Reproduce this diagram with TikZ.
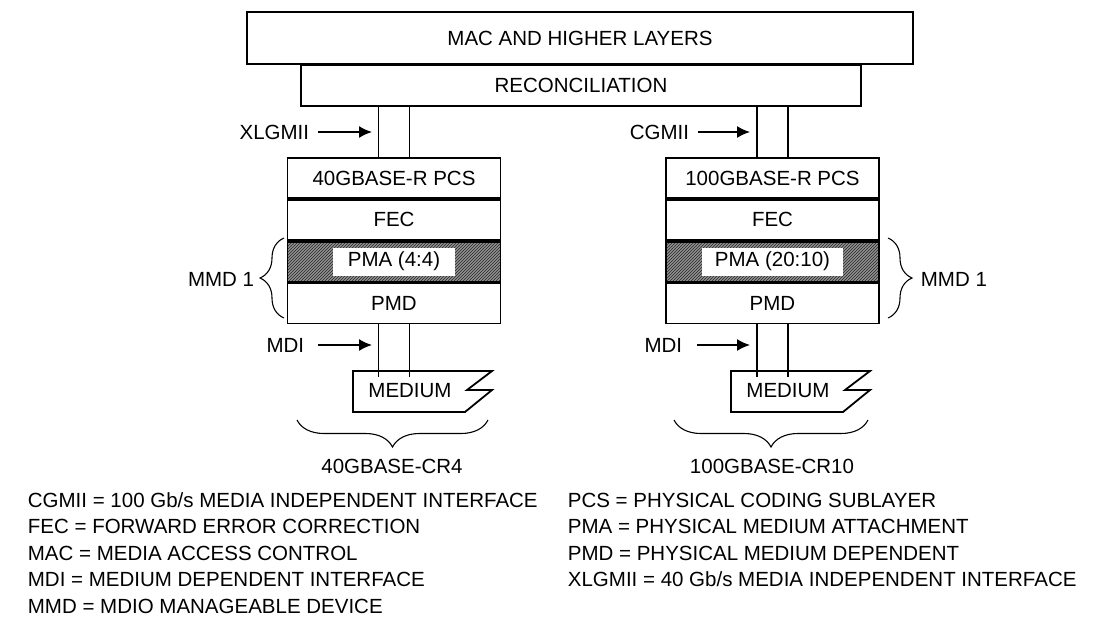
\documentclass[tikz,border=0pt]{standalone}
\usepackage{fontspec}
\setmainfont{Liberation Sans}
\usepackage{tikz}
\usetikzlibrary{arrows.meta,positioning,calc,patterns,decorations.pathreplacing}
\definecolor{HatchGray}{RGB}{145,145,145}

\begin{document}
\begin{tikzpicture}[x=1pt, y=-1pt, line width=1.8pt,
    every node/.style={font=\fontsize{20.5}{24}\selectfont},
    layer/.style={draw, line width=1.8pt, minimum width=213pt, minimum height=40pt, inner sep=0pt},
    tag/.style={inner sep=0pt},
    ifarrow/.style={-{Latex[length=13pt,width=12pt]}, line width=1.5pt},
    brc/.style={decorate, decoration={brace, amplitude=#1}, line width=1.1pt}]
  \useasboundingbox (0,0) rectangle (1099,618);

  % top of the stack
  \node[draw, minimum width=666pt, minimum height=52pt, inner sep=0pt] (mac) at (580,38) {MAC AND HIGHER LAYERS};
  \node[draw, minimum width=560pt, minimum height=41pt, inner sep=0pt, anchor=north] (recon) at (581,64) {RECONCILIATION};

  % 40G stack
  \node[layer] (pcs1) at (394,178) {40GBASE-R PCS};
  \node[layer, below=0pt of pcs1] (fec1) {FEC};
  \node[layer, below=0pt of fec1, preaction={fill=HatchGray}, pattern=north east lines, pattern color=black!85] (pma1) {};
  \node[layer, below=0pt of pma1] (pmd1) {PMD};
  \node[fill=white, minimum width=122pt, minimum height=28pt, inner sep=0pt] (pmatxt1) at (pma1) {PMA (4:4)};

  % 100G stack
  \node[layer] (pcs2) at (772.5,178) {100GBASE-R PCS};
  \node[layer, below=0pt of pcs2] (fec2) {FEC};
  \node[layer, below=0pt of fec2, preaction={fill=HatchGray}, pattern=north east lines, pattern color=black!85] (pma2) {};
  \node[layer, below=0pt of pma2] (pmd2) {PMD};
  \node[fill=white, minimum width=141pt, minimum height=28pt, inner sep=0pt] (pmatxt2) at (pma2) {PMA (20:10)};

  % interface bars
  \draw ([xshift=-15.5pt]pcs1.north) -- ([xshift=-15.5pt]pcs1.north |- recon.south);
  \draw ([xshift=15.5pt]pcs1.north) -- ([xshift=15.5pt]pcs1.north |- recon.south);
  \draw ([xshift=-15.5pt]pcs2.north) -- ([xshift=-15.5pt]pcs2.north |- recon.south);
  \draw ([xshift=15.5pt]pcs2.north) -- ([xshift=15.5pt]pcs2.north |- recon.south);
  \draw ([xshift=-15.5pt]pmd1.south) -- ++(0,53);
  \draw ([xshift=15.5pt]pmd1.south) -- ++(0,53);
  \draw ([xshift=-15.5pt]pmd2.south) -- ++(0,53);
  \draw ([xshift=15.5pt]pmd2.south) -- ++(0,53);

  % medium
  \coordinate (med1) at (353,371);
  \draw (med1) -- ++(139,0) -- ++(-25,19) -- ++(25,0) -- ++(-27,22) -- ++(-112,0) -- cycle;
  \node (medtxt1) at (410,391) {MEDIUM};
  \coordinate (med2) at (731,371);
  \draw (med2) -- ++(139,0) -- ++(-25,19) -- ++(25,0) -- ++(-27,22) -- ++(-112,0) -- cycle;
  \node (medtxt2) at (788,391) {MEDIUM};

  % interface arrows
  \node[tag, anchor=east] (xlgmii) at (310,132) {XLGMII};
  \coordinate (xtip) at (372,132);
  \draw[ifarrow] ([xshift=8pt]xlgmii.east) -- (xtip);
  \node[tag, anchor=east] (mdi1) at (305,345) {MDI};
  \coordinate (mtip1) at (372,345);
  \draw[ifarrow] ([xshift=13pt]mdi1.east) -- (mtip1);
  \node[tag, anchor=east] (cgmii) at (690,132) {CGMII};
  \coordinate (ctip) at (750,132);
  \draw[ifarrow] ([xshift=8pt]cgmii.east) -- (ctip);
  \node[tag, anchor=east] (mdi2) at (683,345) {MDI};
  \coordinate (mtip2) at (750,345);
  \draw[ifarrow] ([xshift=14pt]mdi2.east) -- (mtip2);

  % braces
  \draw[brc=24pt] (284,318) -- (284,238);
  \node[tag, anchor=east] (mmd1) at (255,279) {MMD 1};
  \draw[brc=24pt] (888,238) -- (888,318);
  \node[tag, anchor=west] (mmd2) at (920,279) {MMD 1};
  \draw[brc=27pt] (488,420) -- (297,420);
  \node (cr4) at (392,466) {40GBASE-CR4};
  \draw[brc=27pt] (868,420) -- (674,420);
  \node (cr10) at (772,466) {100GBASE-CR10};

  % legend
  \node[tag, anchor=west] (lg1) at (27,500) {CGMII = 100 Gb/s MEDIA INDEPENDENT INTERFACE};
  \node[tag, anchor=west] (lg2) at (27,526.5) {FEC = FORWARD ERROR CORRECTION};
  \node[tag, anchor=west] (lg3) at (27,553) {MAC = MEDIA ACCESS CONTROL};
  \node[tag, anchor=west] (lg4) at (27,579.5) {MDI = MEDIUM DEPENDENT INTERFACE};
  \node[tag, anchor=west] (lg5) at (27,606) {MMD = MDIO MANAGEABLE DEVICE};
  \node[tag, anchor=west] (lg6) at (567,500) {PCS = PHYSICAL CODING SUBLAYER};
  \node[tag, anchor=west] (lg7) at (567,526.5) {PMA = PHYSICAL MEDIUM ATTACHMENT};
  \node[tag, anchor=west] (lg8) at (567,553) {PMD = PHYSICAL MEDIUM DEPENDENT};
  \node[tag, anchor=west] (lg9) at (567,579.5) {XLGMII = 40 Gb/s MEDIA INDEPENDENT INTERFACE};
\end{tikzpicture}
\end{document}
